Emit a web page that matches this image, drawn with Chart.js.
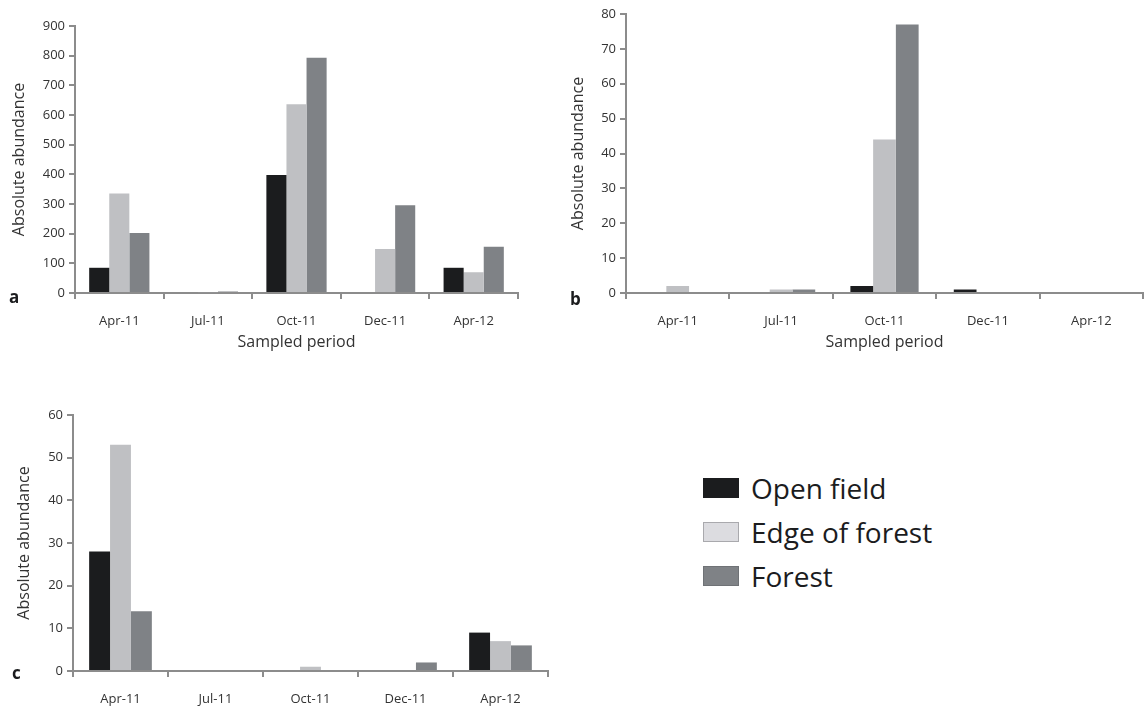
<!DOCTYPE html>
<html>
<head>
<meta charset="utf-8">
<script src="https://cdn.jsdelivr.net/npm/chart.js@4/dist/chart.umd.min.js"></script>
<style>
  body{margin:0;background:#fff;width:1145px;height:708px;position:relative;overflow:hidden;font-family:"Open Sans",sans-serif;}
  .box{position:absolute;}
  .tag{position:absolute;font-weight:bold;font-size:17px;color:#1b1c1e;}
  #legend{position:absolute;left:703px;top:466px;}
  #legend div{height:44px;display:flex;align-items:center;font-size:28px;color:#1b1c1e;}
  #legend span{display:inline-block;width:36px;height:20px;margin-right:12px;box-sizing:border-box;}
</style>
</head>
<body>
<div class="box" style="left:0;top:0;width:530px;height:360px"><canvas id="chA"></canvas></div>
<div class="box" style="left:560px;top:0;width:585px;height:360px"><canvas id="chB"></canvas></div>
<div class="box" style="left:0;top:390px;width:560px;height:318px"><canvas id="chC"></canvas></div>
<div class="tag" style="left:9px;top:285px">a</div>
<div class="tag" style="left:570px;top:287px">b</div>
<div class="tag" style="left:12px;top:661px">c</div>
<div id="legend"></div>
<script>
// data
const periods = ["Apr-11","Jul-11","Oct-11","Dec-11","Apr-12"];
const seriesNames = ["Open field","Edge of forest","Forest"];
const seriesColors = ["#1b1c1e","#bfc0c3","#7f8286"];

const aOpen   = [85, 0, 398, 0, 85];
const aEdge   = [335, 3, 636, 148, 70];
const aForest = [202, 5, 793, 296, 156];

const bOpen   = [0, 0, 2, 1, 0];
const bEdge   = [2, 1, 44, 0, 0];
const bForest = [0, 1, 77, 0, 0];

const cOpen   = [28, 0, 0, 0, 9];
const cEdge   = [53, 0, 1, 0, 7];
const cForest = [14, 0, 0, 2, 6];

const axisGrey = "#8c8c8c";
const txt = "#333";

function makeChart(id, data, yMax, yStep, opt){
  new Chart(document.getElementById(id), {
    type:"bar",
    data:{
      labels: periods,
      datasets: data.map((d,i)=>({
        label: seriesNames[i], data:d, backgroundColor: seriesColors[i],
        borderWidth:0, categoryPercentage: opt.cat, barPercentage:1
      }))
    },
    options:{
      responsive:true, maintainAspectRatio:false, animation:false,
      layout:{padding:{top:opt.top,right:opt.right,left:0,bottom:0}},
      plugins:{legend:{display:false},tooltip:{enabled:false}},
      scales:{
        x:{
          grid:{drawOnChartArea:false,color:axisGrey,lineWidth:2,tickLength:6,offset:true},
          border:{color:axisGrey,width:2},
          ticks:{color:txt,font:{family:"Open Sans",size:13},padding:14,maxRotation:0},
          title:{display:!!opt.xTitle,text:opt.xTitle||"",color:txt,font:{family:"Open Sans",size:16},padding:{top:0,bottom:8}},
          afterFit: s=>{ s.height = opt.xh; }
        },
        y:{
          min:0, max:yMax,
          grid:{drawOnChartArea:false,color:axisGrey,lineWidth:2,tickLength:6},
          border:{color:axisGrey,width:2},
          ticks:{stepSize:yStep,color:txt,font:{family:"Open Sans",size:13},padding:4},
          title:{display:true,text:"Absolute abundance",color:txt,font:{family:"Open Sans",size:16},padding:{top:opt.tp,bottom:2}},
          afterFit: s=>{ s.width = opt.yw; }
        }
      }
    }
  });
}

makeChart("chA",[aOpen,aEdge,aForest],900,100,{cat:0.68,top:26,right:12,xh:67,yw:75,tp:10,xTitle:"Sampled period"});
makeChart("chB",[bOpen,bEdge,bForest],80,10,{cat:0.66,top:14,right:2,xh:67,yw:66,tp:9,xTitle:"Sampled period"});
makeChart("chC",[cOpen,cEdge,cForest],60,10,{cat:0.66,top:25,right:12,xh:37,yw:73,tp:15});

// legend
const lg = document.getElementById("legend");
const swatch = ["#1b1c1e","#dcdce0","#7f8286"];
const swBorder = ["#1b1c1e","#a9a9ad","#6f7276"];
seriesNames.forEach((n,i)=>{
  const row = document.createElement("div");
  const sw = document.createElement("span");
  sw.style.background = swatch[i];
  sw.style.border = "1px solid " + swBorder[i];
  row.appendChild(sw);
  row.appendChild(document.createTextNode(n));
  lg.appendChild(row);
});
</script>
</body>
</html>
